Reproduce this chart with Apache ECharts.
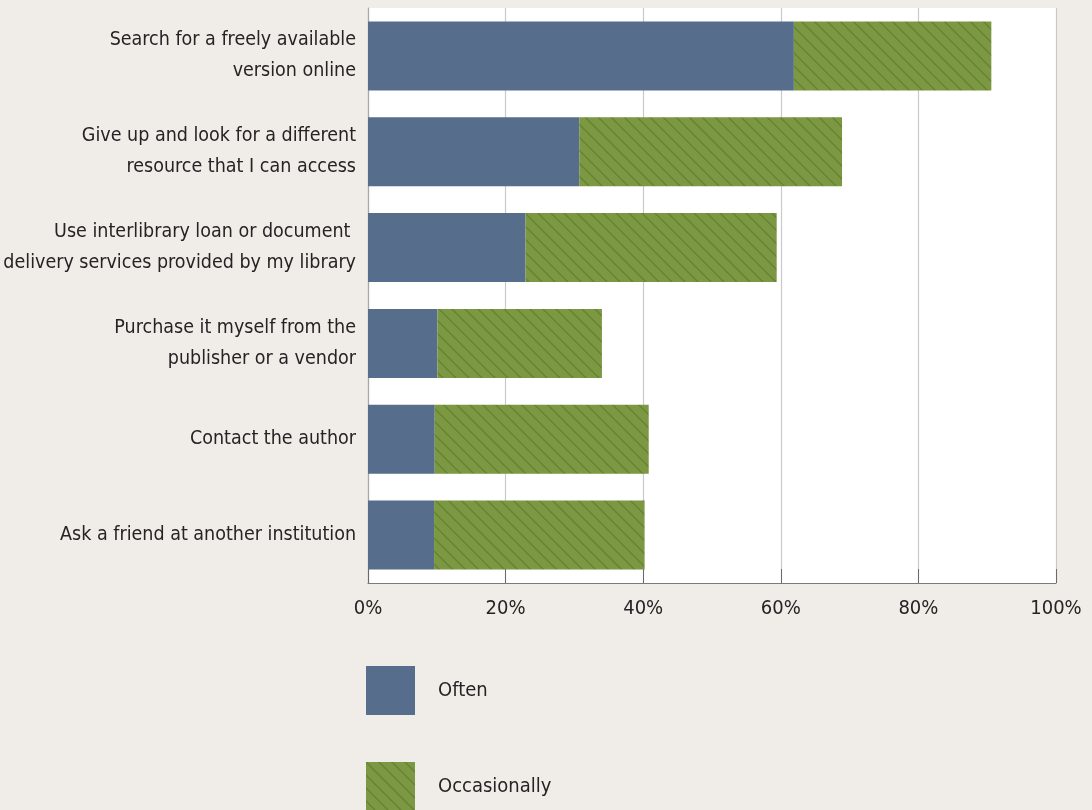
<!DOCTYPE html>
<html>
<head>
<meta charset="utf-8">
<style>
  html, body { margin: 0; padding: 0; background: #f0ede8; }
  #chart { width: 1092px; height: 810px; }
</style>
<script src="https://cdn.jsdelivr.net/npm/echarts@6/dist/echarts.min.js"></script>
</head>
<body>
<div id="chart"></div>
<script>
// Survey answers: what respondents do when they cannot access a resource
const categories = [
  'Search for a freely available\nversion online',
  'Give up and look for a different\nresource that I can access',
  'Use interlibrary loan or document \ndelivery services provided by my library',
  'Purchase it myself from the\npublisher or a vendor',
  'Contact the author',
  'Ask a friend at another institution'
];
const seriesNames = ['Often', 'Occasionally'];
const often = [61.9, 30.7, 22.9, 10.1, 9.7, 9.6];
const occasionally = [28.7, 38.2, 36.5, 23.9, 31.1, 30.6];
const xTicks = [0, 20, 40, 60, 80, 100];

// Diagonal hatch fill for the "Occasionally" bars
function hatchPattern() {
  const s = 13;
  const c = document.createElement('canvas');
  c.width = s; c.height = s;
  const g = c.getContext('2d');
  g.fillStyle = '#7c9842';
  g.fillRect(0, 0, s, s);
  g.strokeStyle = '#658331';
  g.lineWidth = 1.4;
  g.beginPath();
  g.moveTo(-2, -2); g.lineTo(s + 2, s + 2);
  g.moveTo(-2 - s, -2); g.lineTo(2, s + 2);
  g.moveTo(s - 2, -2); g.lineTo(2 * s + 2, s + 2);
  g.stroke();
  return { image: c, repeat: 'repeat' };
}

const FONT = '"Liberation Sans Narrow", "DejaVu Sans Condensed", "Roboto Condensed", sans-serif';
const TEXT = '#262324';
const SIZE = 19.5;

// One legend block per series so the swatches stack vertically
function legendBlock(name, top) {
  return {
    orient: 'vertical',
    left: 361, top: top,
    itemWidth: 49, itemHeight: 49,
    icon: 'rect',
    data: [name],
    selectedMode: false,
    textStyle: { fontFamily: FONT, fontSize: 20, color: TEXT, padding: [0, 0, 0, 18] }
  };
}

const chart = echarts.init(document.getElementById('chart'), null, { renderer: 'canvas' });
chart.setOption({
  backgroundColor: '#f0ede8',
  animation: false,
  textStyle: { fontFamily: FONT },
  grid: {
    left: 368, right: 36, top: 8, height: 575,
    containLabel: false, outerBoundsMode: 'none',
    show: true, backgroundColor: '#ffffff', borderWidth: 0
  },
  legend: [legendBlock(seriesNames[0], 661), legendBlock(seriesNames[1], 757)],
  xAxis: {
    type: 'value',
    min: xTicks[0], max: xTicks[xTicks.length - 1], interval: xTicks[1] - xTicks[0],
    axisLine: { show: true, lineStyle: { color: '#7a7a7a', width: 1.2 } },
    axisTick: { show: true, inside: true, length: 14, lineStyle: { color: '#6a6a6a' } },
    splitLine: { show: true, lineStyle: { color: '#c9c9c9', width: 1.2 } },
    axisLabel: { formatter: '{value}%', fontFamily: FONT, fontSize: 20, color: TEXT, margin: 16 }
  },
  yAxis: {
    type: 'category',
    inverse: true,
    data: categories,
    axisLine: { show: true, lineStyle: { color: '#a8a8a8', width: 1.2 } },
    axisTick: { show: false },
    axisLabel: { fontFamily: FONT, fontSize: SIZE, color: TEXT, margin: 12, lineHeight: 31, align: 'right' }
  },
  series: [
    {
      name: seriesNames[0], type: 'bar', stack: 'total', barWidth: '72%',
      itemStyle: { color: '#566e8c' },
      data: often
    },
    {
      name: seriesNames[1], type: 'bar', stack: 'total', barWidth: '72%',
      itemStyle: { color: hatchPattern() },
      data: occasionally
    }
  ]
});
</script>
</body>
</html>
